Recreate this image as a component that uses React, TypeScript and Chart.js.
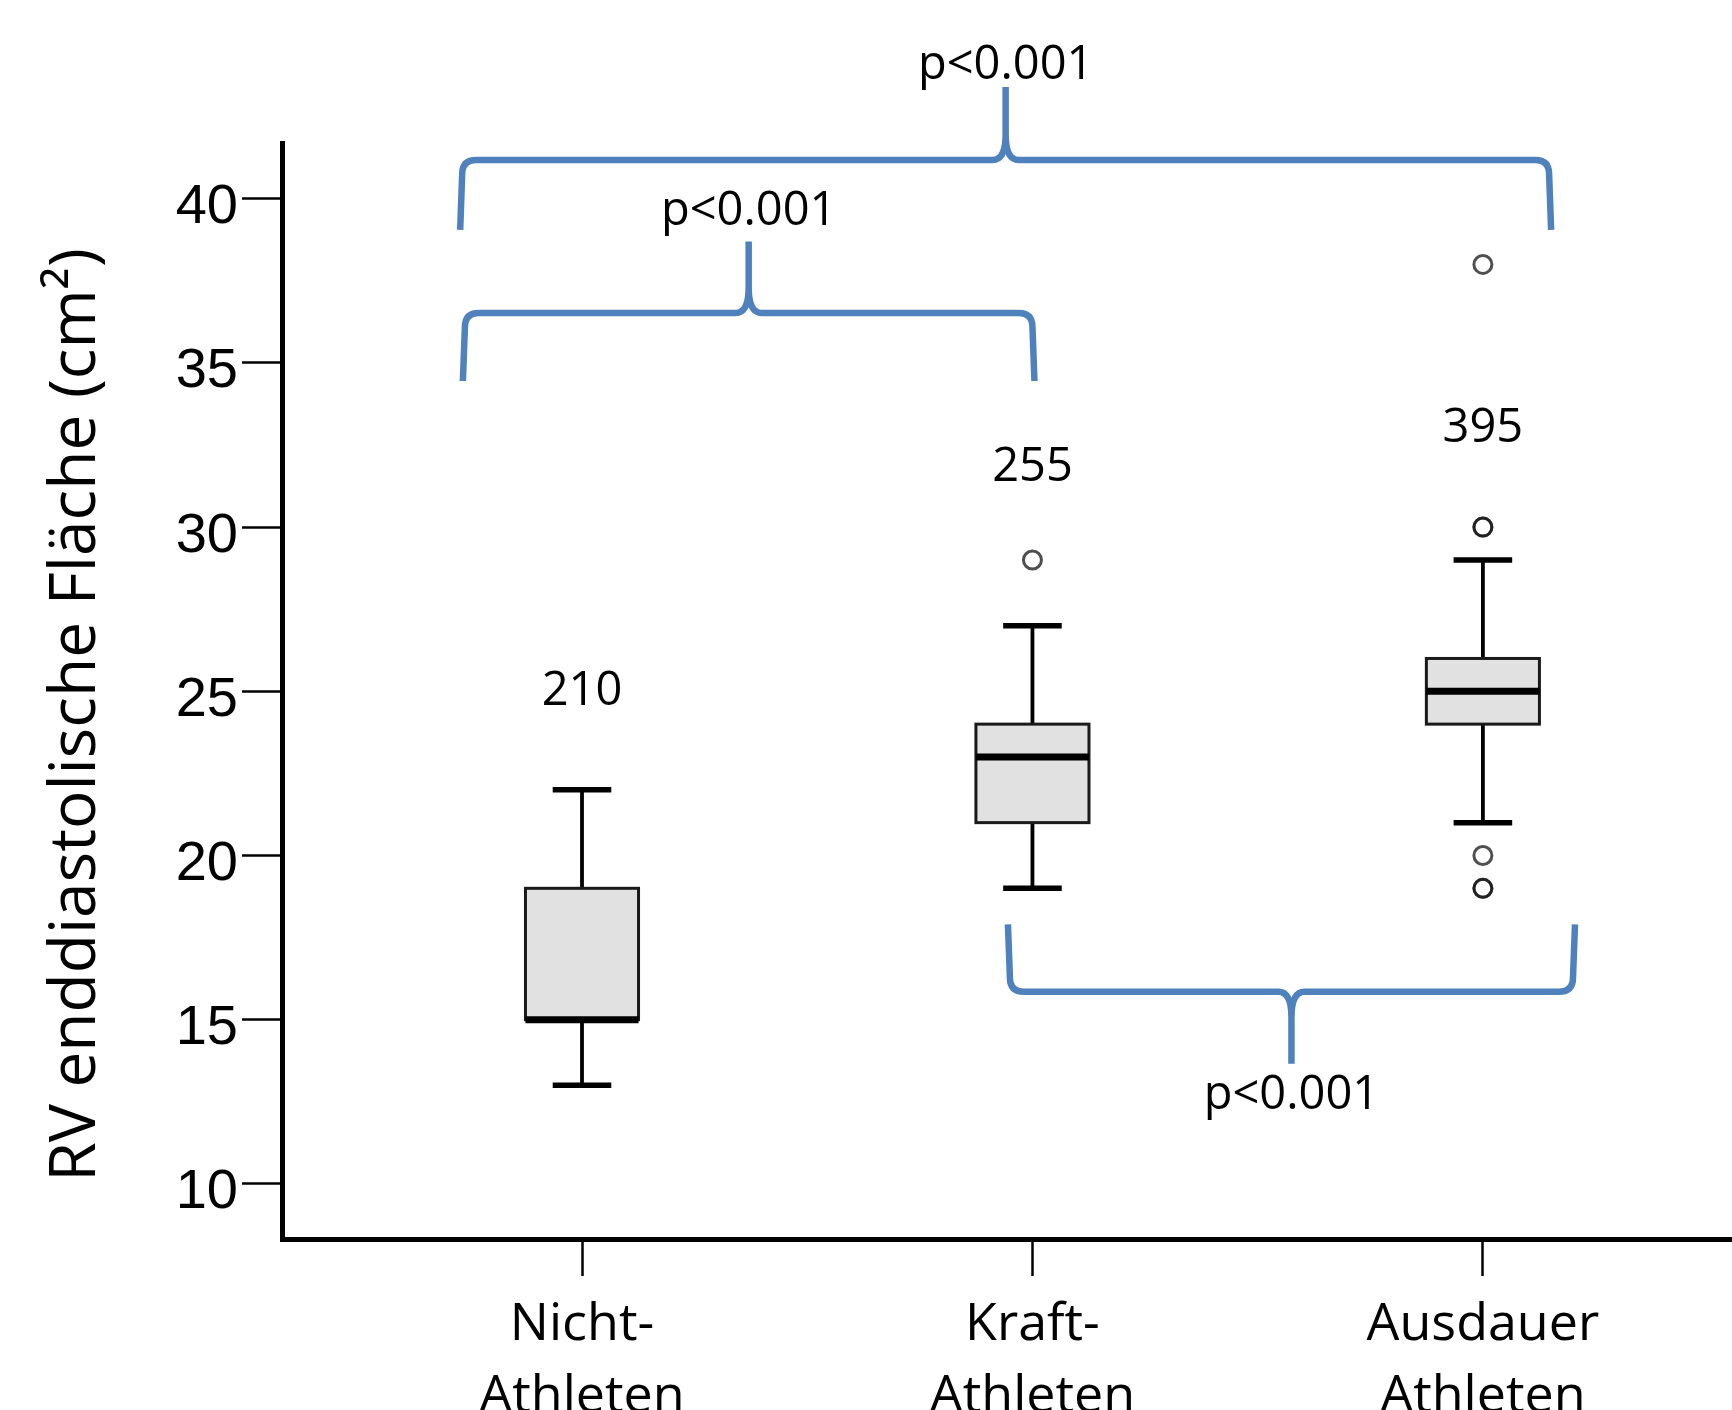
import React, { useEffect, useRef } from 'react';
import { Chart, registerables } from 'chart.js';

Chart.register(...registerables);

// ---- data ----
const categories: string[][] = [
  ['Nicht-', 'Athleten'],
  ['Kraft-', 'Athleten'],
  ['Ausdauer', 'Athleten'],
];
const whiskerLow = [13, 19, 21];
const q1 = [15, 21, 24];
const median = [15, 23, 25];
const q3 = [19, 24, 26];
const whiskerHigh = [22, 27, 29];
const outliers: number[][] = [[], [29], [38, 30, 30, 20, 19, 19]];
const sampleSizes = ['210', '255', '395'];
const sampleLabelY = [25.0, 31.8, 33.0];
const yTicks = [10, 15, 20, 25, 30, 35, 40];
const yTitle = 'RV enddiastolische Fläche (cm²)';

// significance brackets (x in category index units, y in data units)
const pLabels = ['p<0.001', 'p<0.001', 'p<0.001'];
const bracketFrom = [-0.266, -0.26, 0.95];
const bracketTo = [2.147, 1.0, 2.2];
const bracketBar = [41.18, 36.52, 15.85];
const bracketEnds = [39.05, 34.45, 17.9];
const bracketTip = [43.4, 38.7, 13.66];
const pLabelY = [44.05, 39.6, 12.7];

const W = 1732;
const H = 1410;
const BLUE = 'rgb(79,129,189)';
const TEXT_FONT = '"Open Sans", "Noto Sans", sans-serif';

function drawBracket(ctx: CanvasRenderingContext2D, x0: number, x1: number, pBar: number, pEnd: number, pTip: number) {
  const s = pEnd > pBar ? 1 : -1; // direction ends go
  const xm = (x0 + x1) / 2;
  const r = 14;
  const c = 13;
  ctx.beginPath();
  ctx.moveTo(x0 - 2, pEnd);
  ctx.lineTo(x0, pBar + s * r);
  ctx.quadraticCurveTo(x0, pBar, x0 + r, pBar);
  ctx.lineTo(xm - c, pBar);
  ctx.quadraticCurveTo(xm, pBar, xm, pBar - s * c * 2);
  ctx.lineTo(xm, pTip);
  ctx.moveTo(xm, pBar - s * c * 2);
  ctx.quadraticCurveTo(xm, pBar, xm + c, pBar);
  ctx.lineTo(x1 - r, pBar);
  ctx.quadraticCurveTo(x1, pBar, x1, pBar + s * r);
  ctx.lineTo(x1 + 2, pEnd);
  ctx.stroke();
}

const boxPlugin = {
  id: 'boxPlugin',
  beforeDatasetsDraw(chart: any) {
    const ctx: CanvasRenderingContext2D = chart.ctx;
    const xs = chart.scales.x;
    const ys = chart.scales.y;
    const boxHalf = 0.1255;
    const capHalf = 0.065;
    ctx.save();
    for (let i = 0; i < categories.length; i++) {
      const xc = xs.getPixelForValue(i);
      const xl = xs.getPixelForValue(i - boxHalf);
      const xr = xs.getPixelForValue(i + boxHalf);
      const cl = xs.getPixelForValue(i - capHalf);
      const cr = xs.getPixelForValue(i + capHalf);
      const yLo = ys.getPixelForValue(whiskerLow[i]);
      const yQ1 = ys.getPixelForValue(q1[i]);
      const yMed = ys.getPixelForValue(median[i]);
      const yQ3 = ys.getPixelForValue(q3[i]);
      const yHi = ys.getPixelForValue(whiskerHigh[i]);
      ctx.strokeStyle = '#000';
      ctx.lineCap = 'butt';
      // whiskers
      ctx.lineWidth = 3.8;
      ctx.beginPath();
      ctx.moveTo(xc, yQ3);
      ctx.lineTo(xc, yHi);
      ctx.moveTo(xc, yQ1);
      ctx.lineTo(xc, yLo);
      ctx.stroke();
      ctx.lineWidth = 5.5;
      ctx.beginPath();
      ctx.moveTo(cl, yHi);
      ctx.lineTo(cr, yHi);
      ctx.moveTo(cl, yLo);
      ctx.lineTo(cr, yLo);
      ctx.stroke();
      // box
      ctx.fillStyle = '#e1e1e1';
      ctx.fillRect(xl, yQ3, xr - xl, yQ1 - yQ3);
      ctx.lineWidth = 3;
      ctx.strokeStyle = '#1a1a1a';
      ctx.strokeRect(xl, yQ3, xr - xl, yQ1 - yQ3);
      // median
      ctx.strokeStyle = '#000';
      ctx.lineWidth = 7;
      ctx.beginPath();
      ctx.moveTo(xl, yMed);
      ctx.lineTo(xr, yMed);
      ctx.stroke();
    }
    ctx.restore();
  },
  afterDraw(chart: any) {
    const ctx: CanvasRenderingContext2D = chart.ctx;
    const xs = chart.scales.x;
    const ys = chart.scales.y;
    ctx.save();
    // sample sizes
    ctx.fillStyle = '#000';
    ctx.font = `47px ${TEXT_FONT}`;
    ctx.textAlign = 'center';
    ctx.textBaseline = 'middle';
    for (let i = 0; i < sampleSizes.length; i++) {
      ctx.fillText(sampleSizes[i], xs.getPixelForValue(i), ys.getPixelForValue(sampleLabelY[i]));
    }
    // brackets
    ctx.strokeStyle = BLUE;
    ctx.lineWidth = 6.5;
    ctx.lineJoin = 'round';
    ctx.lineCap = 'butt';
    for (let i = 0; i < pLabels.length; i++) {
      const x0 = xs.getPixelForValue(bracketFrom[i]);
      const x1 = xs.getPixelForValue(bracketTo[i]);
      drawBracket(ctx, x0, x1, ys.getPixelForValue(bracketBar[i]), ys.getPixelForValue(bracketEnds[i]), ys.getPixelForValue(bracketTip[i]));
      ctx.fillText(pLabels[i], xs.getPixelForValue((bracketFrom[i] + bracketTo[i]) / 2), ys.getPixelForValue(pLabelY[i]));
    }
    // y title
    ctx.font = `64px ${TEXT_FONT}`;
    ctx.textBaseline = 'alphabetic';
    ctx.translate(95, 715);
    ctx.rotate(-Math.PI / 2);
    ctx.fillText(yTitle, 0, 0);
    ctx.restore();
  },
};

export default function App() {
  const canvasRef = useRef<HTMLCanvasElement | null>(null);

  useEffect(() => {
    const canvas = canvasRef.current;
    if (!canvas) return;
    const points: { x: number; y: number }[] = [];
    outliers.forEach((arr, i) => arr.forEach((v) => points.push({ x: i, y: v })));

    const chart = new Chart(canvas, {
      type: 'scatter',
      data: {
        datasets: [
          {
            data: points,
            pointRadius: 9,
            pointBorderWidth: 3,
            pointBackgroundColor: 'rgba(255,255,255,0)',
            pointBorderColor: 'rgba(20,20,20,0.75)',
          },
        ],
      },
      options: {
        responsive: false,
        animation: false,
        devicePixelRatio: 1,
        layout: { autoPadding: false, padding: { top: 143.6, left: 0, right: 0, bottom: 0 } },
        plugins: {
          legend: { display: false },
          tooltip: { enabled: false },
          title: { display: false },
        },
        scales: {
          x: {
            type: 'linear',
            min: -0.666,
            max: 2.553,
            afterBuildTicks: (s: any) => {
              s.ticks = categories.map((_, i) => ({ value: i }));
            },
            afterFit: (s: any) => {
              s.height = 171;
              s.paddingLeft = 0;
              s.paddingRight = 0;
            },
            ticks: {
              callback: (v: any) => categories[v as number],
              font: { family: TEXT_FONT, size: 52, lineHeight: 1.37 },
              color: '#000',
              padding: 14,
              maxRotation: 0,
              autoSkip: false,
            },
            grid: {
              drawOnChartArea: false,
              drawTicks: true,
              tickLength: 37,
              tickWidth: 2.5,
              tickColor: '#000',
            },
            border: { display: true, color: '#000', width: 5 },
          },
          y: {
            type: 'linear',
            min: 8.32,
            max: 41.68,
            afterBuildTicks: (s: any) => {
              s.ticks = yTicks.map((v) => ({ value: v }));
            },
            afterFit: (s: any) => {
              s.width = 282;
              s.paddingTop = 0;
              s.paddingBottom = 0;
            },
            ticks: {
              font: { family: '"Liberation Sans", Arial, sans-serif', size: 56 },
              color: '#000',
              padding: 4,
              labelOffset: 9,
            },
            grid: {
              drawOnChartArea: false,
              drawTicks: true,
              tickLength: 40,
              tickWidth: 2.5,
              tickColor: '#000',
            },
            border: { display: true, color: '#000', width: 5 },
          },
        },
      },
      plugins: [boxPlugin],
    } as any);

    return () => {
      chart.destroy();
    };
  }, []);

  return (
    <div style={{ position: 'absolute', left: 0, top: 0, width: W, height: H, background: '#fff' }}>
      <canvas ref={canvasRef} width={W} height={H} style={{ display: 'block', width: W, height: H }} />
    </div>
  );
}
